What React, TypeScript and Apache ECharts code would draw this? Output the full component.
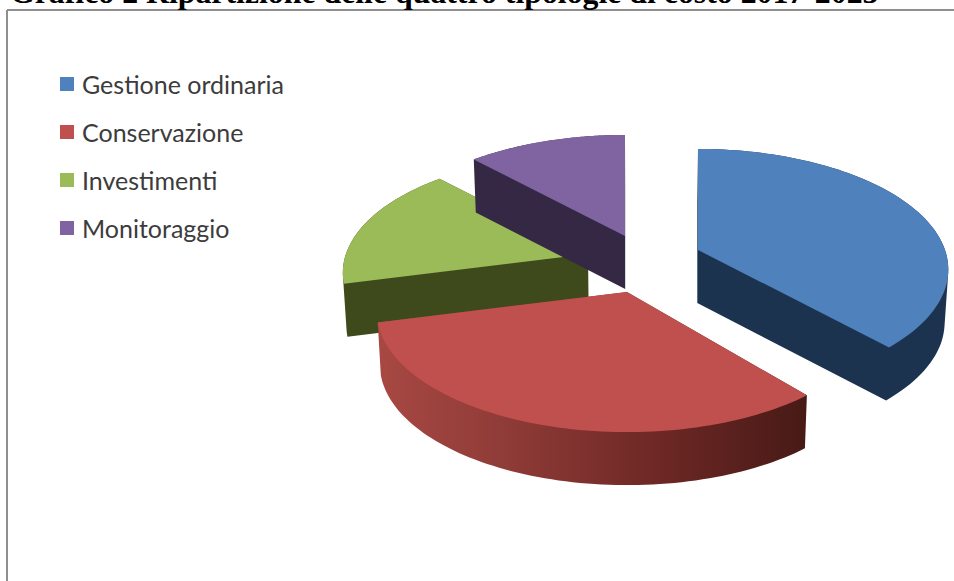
import React, { useEffect, useRef } from "react";
import * as echarts from "echarts";

const categories = ["Gestione ordinaria", "Conservazione", "Investimenti", "Monitoraggio"];
const shares = [39, 32, 17, 12];
const titleText = "Grafico 2 Ripartizione delle quattro tipologie di costo 2017-2023";

const topColors = ["#4f81bd", "#c0504d", "#9bbb59", "#8064a2"];
const sideColors: any[] = [
  "#1c3350",
  {
    type: "linear", x: 0, y: 0, x2: 1, y2: 0,
    colorStops: [
      { offset: 0, color: "#a84843" },
      { offset: 0.3, color: "#8f3b37" },
      { offset: 0.65, color: "#6e2825" },
      { offset: 1, color: "#471a16" },
    ],
  },
  "#3f4a1c",
  "#352845",
];

// Pie projection: perspective tilt of a unit disc, then each slice pulled out from the hub.
const HUB = { x: 640, y: 261 };
const explode = [[58, -11], [-13, 31], [-52, -7], [-15, -25]];
const PROJ = { a: 247, b: 117.4, k: 0.162, depth: 53, converge: 0.012 };
const drawOrder = [2, 4, 3, 5];
// Small per-slice corrections for the exploded perspective: end-edge trim in degrees, radius factor.
const endTrimDeg = [-3.4, 0, 0, 0];
const radiusFactor = [1, 1, 0.98, 1];

const total = shares.reduce((s, v) => s + v, 0);

function project(theta: number, r: number) {
  const u = r * Math.sin(theta);
  const v = r * Math.cos(theta);
  const w = 1 + PROJ.k * v;
  return [(PROJ.a * u) / w, (-PROJ.b * v) / w];
}

function toPath(pts: number[][]) {
  return pts.map((p, i) => (i ? "L" : "M") + p[0].toFixed(2) + " " + p[1].toFixed(2)).join("") + "Z";
}

function signedArea(q: number[][]) {
  let a = 0;
  q.forEach((p, i) => {
    const n = q[(i + 1) % q.length];
    a += p[0] * n[1] - n[0] * p[1];
  });
  return a;
}

function renderSlice(index: number, value: number) {
  const before = shares.slice(0, index).reduce((s, v) => s + v, 0);
  const start = (before / total) * Math.PI * 2;
  const sweep = (value / total) * Math.PI * 2 + (endTrimDeg[index] * Math.PI) / 180;
  const ox = HUB.x + explode[index][0];
  const oy = HUB.y + explode[index][1];

  const loop: number[][] = [[ox, oy]];
  const steps = 80;
  for (let i = 0; i <= steps; i++) {
    const p = project(start + (sweep * i) / steps, radiusFactor[index]);
    loop.push([ox + p[0], oy + p[1]]);
  }
  const lower = (p: number[]) => [p[0] + (HUB.x - p[0]) * PROJ.converge, p[1] + PROJ.depth];

  // Extruded wall: one quad per outline segment, wound the same way so they merge.
  let wall = "";
  loop.forEach((p, i) => {
    const n = loop[(i + 1) % loop.length];
    let q = [p, n, lower(n), lower(p)];
    if (signedArea(q) < 0) q = q.reverse();
    wall += toPath(q);
  });

  return {
    type: "group",
    children: [
      {
        type: "path",
        shape: { pathData: wall + toPath(loop.map(lower)) },
        style: { fill: sideColors[index], stroke: null },
        silent: true,
      },
      {
        type: "path",
        shape: { pathData: toPath(loop) },
        style: { fill: topColors[index], stroke: null },
        silent: true,
      },
    ],
  };
}

export default function App() {
  const ref = useRef<HTMLDivElement>(null);

  useEffect(() => {
    document.body.style.margin = "0";
    document.body.style.background = "#ffffff";
    const chart = echarts.init(ref.current!, null, { renderer: "svg" });
    chart.setOption({
      animation: false,
      backgroundColor: "#ffffff",
      title: {
        text: titleText,
        left: 10,
        top: -24,
        padding: 0,
        textStyle: {
          fontFamily: "'Liberation Serif'",
          fontWeight: "bold",
          fontSize: 31.8,
          color: "#000000",
        },
      },
      legend: {
        orient: "vertical",
        left: 60,
        top: 70,
        padding: 0,
        icon: "rect",
        itemWidth: 14,
        itemHeight: 14,
        itemGap: 20,
        data: categories,
        selectedMode: false,
        textStyle: {
          fontFamily: "Lato",
          fontSize: 25,
          color: "#3c3c3c",
          padding: [0, 0, 0, 3],
          lineHeight: 28,
        },
      },
      graphic: [
        { type: "line", shape: { x1: 7, y1: 10, x2: 954, y2: 10 }, style: { stroke: "#8f8f8f", lineWidth: 2 } },
        { type: "line", shape: { x1: 7, y1: 10, x2: 7, y2: 581 }, style: { stroke: "#8f8f8f", lineWidth: 2 } },
      ],
      series: categories.map((name, index) => ({
        type: "custom",
        name,
        coordinateSystem: "none",
        z: drawOrder[index],
        itemStyle: { color: topColors[index] },
        data: [[shares[index]]],
        renderItem: (_params: any, api: any) => renderSlice(index, api.value(0)),
      })),
    });
    return () => chart.dispose();
  }, []);

  return <div ref={ref} style={{ width: 954, height: 581 }} />;
}
